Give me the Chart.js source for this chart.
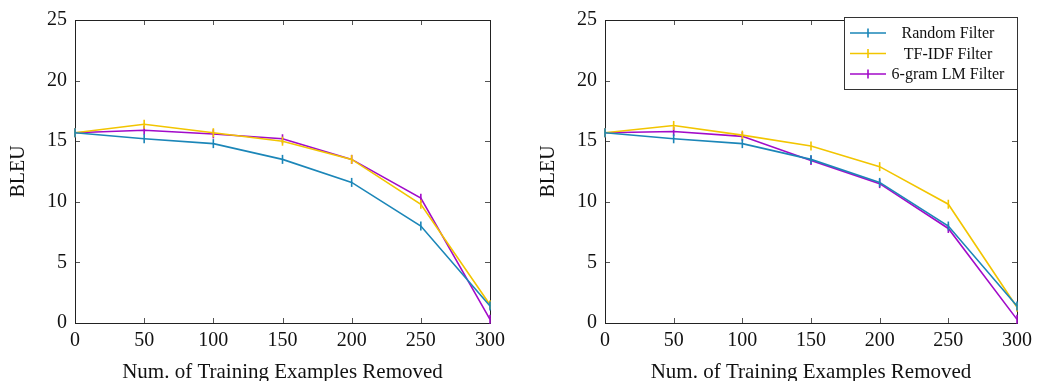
<!DOCTYPE html>
<html>
<head>
<meta charset="utf-8">
<script src="https://cdn.jsdelivr.net/npm/chart.js@4.4.1/dist/chart.umd.min.js"></script>
<style>
  html,body{margin:0;padding:0;background:#fff;}
  #wrap{position:relative;width:1038px;height:381px;overflow:hidden;}
  .pane{position:absolute;top:0;width:519px;height:381px;}
</style>
</head>
<body>
<div id="wrap">
  <div class="pane" style="left:0;"><canvas id="bleu-left"></canvas></div>
  <div class="pane" style="left:519px;"><canvas id="bleu-right"></canvas></div>
</div>
<script>
// examples removed (x) and BLEU for each filter
const removed = [0, 50, 100, 150, 200, 250, 300];
const seriesNames = ['Random Filter', 'TF-IDF Filter', '6-gram LM Filter'];
const seriesColors = ['#1b86b8', '#f2c500', '#a20bc9'];

// left panel
const leftRandom = [15.7, 15.2, 14.8, 13.5, 11.6, 8.0, 1.4];
const leftTfidf  = [15.7, 16.4, 15.7, 15.0, 13.5, 9.8, 1.5];
const leftLm     = [15.7, 15.9, 15.6, 15.2, 13.5, 10.3, 0.3];

// right panel
const rightRandom = [15.7, 15.2, 14.8, 13.5, 11.6, 8.0, 1.4];
const rightTfidf  = [15.7, 16.3, 15.5, 14.6, 12.9, 9.8, 1.3];
const rightLm     = [15.7, 15.8, 15.4, 13.4, 11.5, 7.8, 0.3];

const xTicks = [0, 50, 100, 150, 200, 250, 300];
const yTicks = [0, 5, 10, 15, 20, 25];

const SERIF = '"Liberation Serif", "DejaVu Serif", serif';

function makeSets(rows){
  return rows.map((vals,i)=>({
    label: seriesNames[i],
    data: removed.map((x,j)=>({x, y: vals[j]})),
    borderColor: seriesColors[i],
    backgroundColor: seriesColors[i],
    borderWidth: 1.6,
    pointStyle: 'line',
    rotation: 90,
    pointRadius: 4.5,
    pointBorderWidth: 1.6,
    pointHoverRadius: 4.5,
    tension: 0,
    clip: false,
  }));
}

// frame with inward ticks on all four sides
const frame = {
  id: 'frame',
  beforeDatasetsDraw(chart){
    const {ctx, chartArea:a, scales:{x, y}} = chart;
    ctx.save();
    ctx.strokeStyle = '#555';
    ctx.lineWidth = 1;
    const t = 5;
    xTicks.forEach(v=>{
      const px = Math.round(x.getPixelForValue(v)) + 0.5;
      ctx.beginPath();
      ctx.moveTo(px, a.bottom); ctx.lineTo(px, a.bottom - t);
      ctx.moveTo(px, a.top); ctx.lineTo(px, a.top + t);
      ctx.stroke();
    });
    yTicks.forEach(v=>{
      const py = Math.round(y.getPixelForValue(v)) + 0.5;
      ctx.beginPath();
      ctx.moveTo(a.left, py); ctx.lineTo(a.left + t, py);
      ctx.moveTo(a.right, py); ctx.lineTo(a.right - t, py);
      ctx.stroke();
    });
    ctx.strokeStyle = '#222';
    ctx.strokeRect(Math.round(a.left)+0.5, Math.round(a.top)+0.5,
                   Math.round(a.right-a.left), Math.round(a.bottom-a.top));
    ctx.restore();
  }
};

// boxed legend in the upper right corner
const boxLegend = {
  id: 'boxLegend',
  afterDatasetsDraw(chart, args, opts){
    if(!opts.show) return;
    const {ctx, chartArea:a} = chart;
    const w = 173, h = 72;
    const bx = a.right - w, by = a.top - 3;
    ctx.save();
    ctx.fillStyle = '#fff';
    ctx.fillRect(bx, by, w, h);
    ctx.strokeStyle = '#333';
    ctx.lineWidth = 1;
    ctx.strokeRect(Math.round(bx)+0.5, Math.round(by)+0.5, w, h);
    ctx.font = '16px ' + SERIF;
    ctx.textAlign = 'center';
    ctx.textBaseline = 'middle';
    chart.data.datasets.forEach((ds,i)=>{
      const ry = by + 16 + i*20.5;
      ctx.strokeStyle = ds.borderColor;
      ctx.lineWidth = 1.6;
      ctx.beginPath();
      ctx.moveTo(bx + 6, ry); ctx.lineTo(bx + 42, ry);
      ctx.moveTo(bx + 24, ry - 4.5); ctx.lineTo(bx + 24, ry + 4.5);
      ctx.stroke();
      ctx.fillStyle = '#111';
      ctx.fillText(ds.label, bx + 104, ry + 1);
    });
    ctx.restore();
  }
};

function makeChart(id, rows, padLeft, padRight, legend){
  return new Chart(document.getElementById(id), {
    type: 'line',
    data: { datasets: makeSets(rows) },
    options: {
      responsive: true,
      maintainAspectRatio: false,
      animation: false,
      events: [],
      layout: { padding: { top: 20, left: padLeft, right: padRight, bottom: 0 } },
      plugins: {
        legend: { display: false },
        tooltip: { enabled: false },
        boxLegend: { show: legend },
      },
      scales: {
        x: {
          type: 'linear', min: 0, max: 300,
          afterBuildTicks: s => { s.ticks = xTicks.map(v=>({value:v})); },
          afterFit: s => { s.height = 58; },
          grid: { display: false, drawTicks: false },
          border: { display: false },
          ticks: { color: '#111', padding: 6, maxRotation: 0, font: { family: SERIF, size: 20 } },
          title: { display: true, text: 'Num. of Training Examples Removed', color: '#111',
                   padding: { top: 0, bottom: -4 }, font: { family: SERIF, size: 21 } },
        },
        y: {
          min: 0, max: 25,
          afterBuildTicks: s => { s.ticks = yTicks.map(v=>({value:v})); },
          afterFit: s => { s.width = 68; },
          grid: { display: false, drawTicks: false },
          border: { display: false },
          ticks: { color: '#111', padding: 8, font: { family: SERIF, size: 20 } },
          title: { display: true, text: 'BLEU', color: '#111',
                   padding: { top: 0, bottom: 0 }, font: { family: SERIF, size: 20 } },
        }
      }
    },
    plugins: [frame, boxLegend]
  });
}

makeChart('bleu-left',  [leftRandom, leftTfidf, leftLm], 7, 29, false);
makeChart('bleu-right', [rightRandom, rightTfidf, rightLm], 18, 18, true);
</script>
</body>
</html>
